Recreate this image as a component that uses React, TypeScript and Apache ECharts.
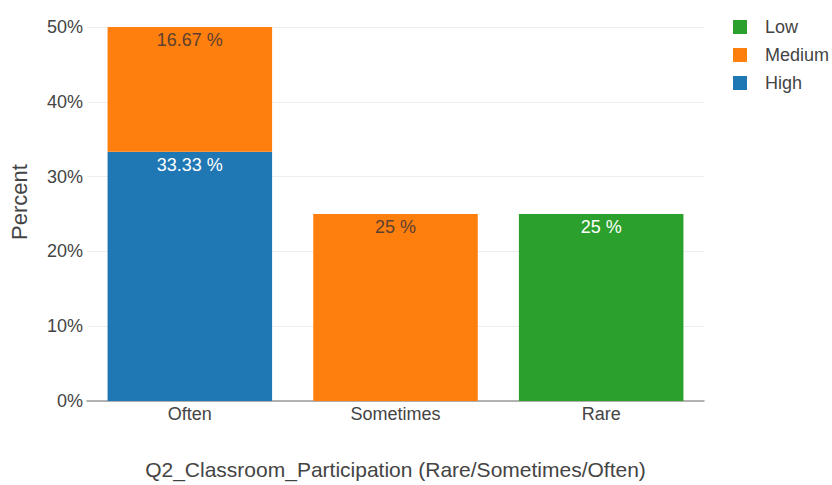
import React, { useEffect, useRef } from "react";
import * as echarts from "echarts";

const categories = ["Often", "Sometimes", "Rare"];
const highValues = [33.33, null, null];
const mediumValues = [16.67, 25, null];
const lowValues = [null, null, 25];
const yTicks = [0, 10, 20, 30, 40, 50];

const FONT = "'Liberation Sans', Arial, sans-serif";

export default function App() {
  const ref = useRef<HTMLDivElement>(null);

  useEffect(() => {
    if (!ref.current) return;
    const chart = echarts.init(ref.current, null, { renderer: "svg" });
    const label = (color: string) => ({
      show: true,
      position: "insideTop",
      distance: 4,
      color,
      fontSize: 18,
      fontFamily: FONT,
      formatter: (p: any) => `${p.value} %`,
    });
    chart.setOption({
      animation: false,
      textStyle: { fontFamily: FONT },
      grid: { left: 87, right: 128, top: 27, bottom: 82, containLabel: false },
      legend: {
        orient: "vertical",
        left: 728,
        top: 13,
        itemWidth: 14,
        itemHeight: 14,
        itemGap: 10,
        icon: "rect",
        data: ["Low", "Medium", "High"],
        textStyle: { color: "#444", fontSize: 18, fontFamily: FONT, padding: [0, 0, 0, 13] },
      },
      xAxis: {
        type: "category",
        data: categories,
        name: "Q2_Classroom_Participation (Rare/Sometimes/Often)",
        nameLocation: "middle",
        nameGap: 58,
        nameTextStyle: { color: "#444", fontSize: 21, fontFamily: FONT },
        axisLine: { show: true, lineStyle: { color: "#9a9a9a", width: 1.5 } },
        axisTick: { show: false },
        axisLabel: { color: "#444", fontSize: 18, fontFamily: FONT, margin: 4 },
      },
      yAxis: {
        type: "value",
        min: yTicks[0],
        max: yTicks[yTicks.length - 1],
        interval: 10,
        name: "Percent",
        nameLocation: "middle",
        nameGap: 57,
        nameTextStyle: { color: "#444", fontSize: 22, fontFamily: FONT, padding: [0, 0, 0, 24] },
        axisLine: { show: false },
        axisTick: { show: false },
        axisLabel: { color: "#444", fontSize: 18, fontFamily: FONT, margin: 4, formatter: "{value}%" },
        splitLine: { lineStyle: { color: "#eeeeee", width: 1 } },
      },
      series: [
        {
          name: "High",
          type: "bar",
          stack: "total",
          data: highValues,
          barCategoryGap: "20%",
          itemStyle: { color: "#1f77b4" },
          label: label("#ffffff"),
        },
        {
          name: "Medium",
          type: "bar",
          stack: "total",
          data: mediumValues,
          barCategoryGap: "20%",
          itemStyle: { color: "#ff7f0e" },
          label: label("#5b4030"),
        },
        {
          name: "Low",
          type: "bar",
          stack: "total",
          data: lowValues,
          barCategoryGap: "20%",
          itemStyle: { color: "#2ca02c" },
          label: label("#ffffff"),
        },
      ],
    });
    return () => chart.dispose();
  }, []);

  return <div ref={ref} style={{ width: 832, height: 485, position: "absolute", left: 0, top: 0, background: "#fff" }} />;
}
